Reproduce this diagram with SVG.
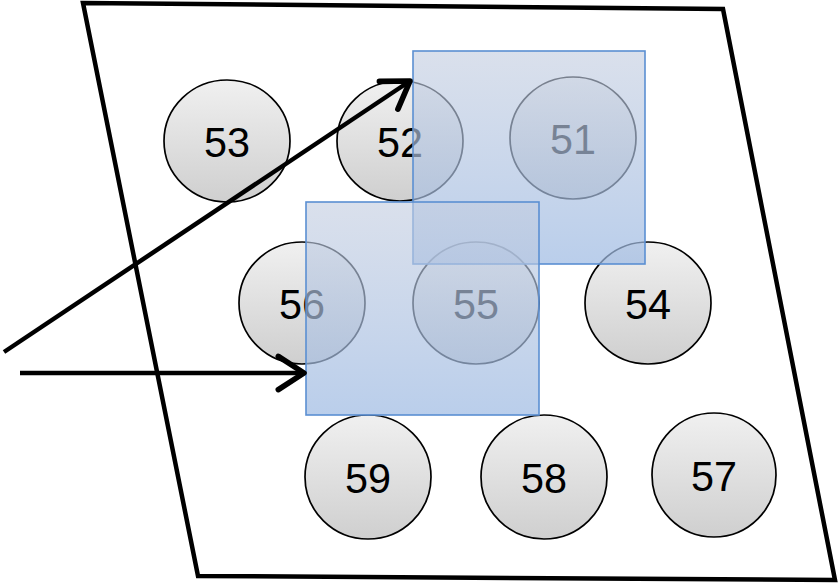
<svg xmlns="http://www.w3.org/2000/svg" width="840" height="586" viewBox="0 0 840 586">
<defs>
<linearGradient id="cg" x1="0" y1="0" x2="0" y2="1">
<stop offset="0" stop-color="#f0f0f0"/>
<stop offset="1" stop-color="#cfcfcf"/>
</linearGradient>
<linearGradient id="sg" x1="0" y1="0" x2="0" y2="1">
<stop offset="0" stop-color="#c3cde0" stop-opacity="0.62"/>
<stop offset="1" stop-color="#9fbbe3" stop-opacity="0.72"/>
</linearGradient>
<marker id="ah" markerWidth="8" markerHeight="8" refX="6.5" refY="4" orient="auto" markerUnits="strokeWidth" overflow="visible">
<path d="M0.8,0.3 L6.5,4 L0.8,7.7" fill="none" stroke="#000" stroke-width="1.25" stroke-linecap="round" stroke-linejoin="round"/>
</marker>
<style>
.frame{fill:#fff;stroke:#000;stroke-width:4.5;stroke-linejoin:miter}
.c ellipse{fill:url(#cg);stroke:#000;stroke-width:1.7}
.c text{font-family:"Liberation Sans",Arial,sans-serif;font-size:43px;fill:#000;text-anchor:middle}
.sq{fill:url(#sg);stroke:#5b8fd2;stroke-width:1.6}
.conn{fill:none;stroke:#000;stroke-width:4.5;marker-end:url(#ah)}
</style>
</defs>
<g id="frame"><path class="frame" d="M83,3 L723,9 L835,580 L198,576 Z"/></g>
<g id="n53" class="c"><ellipse cx="227" cy="141" rx="63" ry="61"/><text x="227" y="157" textLength="46" lengthAdjust="spacingAndGlyphs">53</text></g>
<g id="n52" class="c"><ellipse cx="400" cy="141" rx="63" ry="60"/><text x="400" y="157" textLength="46" lengthAdjust="spacingAndGlyphs">52</text></g>
<g id="n51" class="c"><ellipse cx="573" cy="138" rx="63" ry="61"/><text x="573" y="154" textLength="46" lengthAdjust="spacingAndGlyphs">51</text></g>
<g id="n56" class="c"><ellipse cx="302" cy="303" rx="63" ry="61"/><text x="302" y="319" textLength="46" lengthAdjust="spacingAndGlyphs">56</text></g>
<g id="n55" class="c"><ellipse cx="476" cy="303" rx="63" ry="61"/><text x="476" y="319" textLength="46" lengthAdjust="spacingAndGlyphs">55</text></g>
<g id="n54" class="c"><ellipse cx="648" cy="303" rx="63" ry="61"/><text x="648" y="319" textLength="46" lengthAdjust="spacingAndGlyphs">54</text></g>
<g id="n59" class="c"><ellipse cx="368" cy="477" rx="63" ry="62"/><text x="368" y="493" textLength="46" lengthAdjust="spacingAndGlyphs">59</text></g>
<g id="n58" class="c"><ellipse cx="544" cy="477" rx="63" ry="62"/><text x="544" y="493" textLength="46" lengthAdjust="spacingAndGlyphs">58</text></g>
<g id="n57" class="c"><ellipse cx="714" cy="475" rx="62" ry="62"/><text x="714" y="491" textLength="46" lengthAdjust="spacingAndGlyphs">57</text></g>
<g id="win1"><rect class="sq" x="413" y="51" width="232" height="213"/></g>
<g id="win2"><rect class="sq" x="306" y="202" width="233" height="213"/></g>
<g id="connectors">
<line class="conn" x1="4" y1="352" x2="410" y2="81"/>
<line class="conn" x1="20" y1="373" x2="304" y2="373"/>
</g>
</svg>
